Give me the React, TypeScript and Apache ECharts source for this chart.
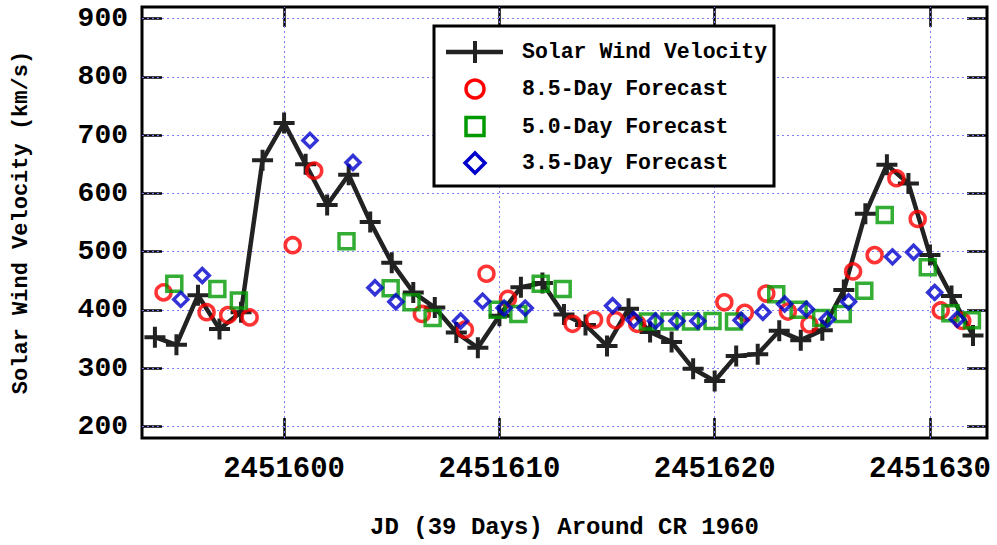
import React, { useEffect, useRef } from "react";
import * as echarts from "echarts";

// ---- Data ----
const velocityDays = [
  2451594, 2451595, 2451596, 2451597, 2451598, 2451599, 2451600, 2451601, 2451602, 2451603,
  2451604, 2451605, 2451606, 2451607, 2451608, 2451609, 2451610, 2451611, 2451612, 2451613,
  2451614, 2451615, 2451616, 2451617, 2451618, 2451619, 2451620, 2451621, 2451622, 2451623,
  2451624, 2451625, 2451626, 2451627, 2451628, 2451629, 2451630, 2451631, 2451632,
];
const velocity = [
  353, 340, 425, 367, 396, 657, 721, 650, 580, 632,
  551, 481, 430, 404, 361, 335, 390, 439, 446, 392,
  374, 338, 402, 362, 345, 299, 278, 321, 324, 364,
  348, 365, 434, 565, 649, 617, 494, 424, 356,
];

const fc85Days = [
  2451594.4, 2451596.4, 2451597.4, 2451598.4, 2451600.4, 2451601.4, 2451606.4, 2451608.4,
  2451609.4, 2451610.4, 2451613.4, 2451614.4, 2451615.4, 2451616.4, 2451620.45, 2451621.4,
  2451622.4, 2451623.4, 2451624.4, 2451626.43, 2451627.43, 2451628.44, 2451629.43, 2451630.5,
  2451631.5,
];
const fc85 = [
  430, 396, 391, 387, 511, 639, 393, 366, 462, 419, 376, 383, 382, 376, 413, 395, 428, 397, 375,
  466, 494, 626, 556, 399, 381,
];

const fc50Days = [
  2451594.9, 2451596.9, 2451597.9, 2451602.9, 2451604.95, 2451605.92, 2451606.9, 2451609.92,
  2451610.88, 2451611.92, 2451612.94, 2451616.9, 2451617.9, 2451618.9, 2451619.9, 2451620.9,
  2451622.86, 2451623.9, 2451624.95, 2451625.95, 2451626.95, 2451627.9, 2451629.9, 2451630.95,
  2451631.95,
];
const fc50 = [
  445, 436, 416, 518, 437, 413, 386, 400, 393, 445, 436, 380, 380, 380, 381, 380, 427, 400, 386,
  393, 433, 563, 473, 394, 382,
];

const fc35Days = [
  2451595.2, 2451596.2, 2451601.2, 2451603.2, 2451604.22, 2451605.19, 2451608.2, 2451609.22,
  2451610.22, 2451611.2, 2451615.26, 2451616.24, 2451617.25, 2451618.25, 2451619.22, 2451621.23,
  2451622.24, 2451623.25, 2451624.26, 2451625.23, 2451626.22, 2451628.26, 2451629.24, 2451630.22,
  2451631.27,
];
const fc35 = [
  418, 459, 691, 653, 438, 414, 381, 415, 403, 403, 407, 383, 381, 381, 381, 382, 396, 410, 401,
  384, 414, 491, 499, 430, 384,
];

const xTicks = [2451600, 2451610, 2451620, 2451630];
const yTicks = [200, 300, 400, 500, 600, 700, 800, 900];

const seriesNames = [
  "Solar Wind Velocity",
  "8.5-Day Forecast",
  "5.0-Day Forecast",
  "3.5-Day Forecast",
];

// ---- Styles ----
const FONT = "'Liberation Mono', 'DejaVu Sans Mono', monospace";
const BLACK = "#222222";
const RED = "#ff0000";
const GREEN = "#009900";
const BLUE = "#0000cc";
const GRID_COLOR = "#7b7bff";
const PLUS = "path://M0,8.5H21V12.5H0Z M8.5,0H12.5V21H8.5Z";

const zip = (xs: number[], ys: number[]) => xs.map((x, i) => [x, ys[i]]);

function buildOption() {
  const X_MIN = 2451593.4;
  const X_MAX = 2451632.65;
  const Y_MIN = 180;
  const Y_MAX = 920;

  const tickStyle = { color: "#000", width: 2.5 };
  const labelStyle = {
    fontFamily: FONT,
    fontWeight: "bold" as const,
    color: "#000",
  };

  const legendRows = [52, 89, 126.5, 163];
  const legendTextX = 522;
  const legendSymX = 475;

  const graphic: any[] = [
    {
      type: "rect",
      z: 100,
      shape: { x: 434, y: 26, width: 340, height: 160 },
      style: { fill: "#fff", stroke: "#000", lineWidth: 3 },
    },
    {
      type: "line",
      z: 101,
      shape: { x1: 446, y1: legendRows[0], x2: 503, y2: legendRows[0] },
      style: { stroke: BLACK, lineWidth: 4.5 },
    },
    {
      type: "line",
      z: 101,
      shape: { x1: legendSymX, y1: legendRows[0] - 11, x2: legendSymX, y2: legendRows[0] + 11 },
      style: { stroke: BLACK, lineWidth: 4 },
    },
    {
      type: "circle",
      z: 101,
      shape: { cx: legendSymX, cy: legendRows[1], r: 9 },
      style: { fill: "none", stroke: RED, lineWidth: 3.5 },
    },
    {
      type: "rect",
      z: 101,
      shape: { x: legendSymX - 9, y: legendRows[2] - 9, width: 18, height: 18 },
      style: { fill: "none", stroke: GREEN, lineWidth: 3.5 },
    },
    {
      type: "polygon",
      z: 101,
      shape: {
        points: [
          [legendSymX, legendRows[3] - 10],
          [legendSymX + 10, legendRows[3]],
          [legendSymX, legendRows[3] + 10],
          [legendSymX - 10, legendRows[3]],
        ],
      },
      style: { fill: "none", stroke: BLUE, lineWidth: 3.5 },
    },
  ];
  seriesNames.forEach((n, i) => {
    graphic.push({
      type: "text",
      z: 102,
      x: legendTextX,
      y: legendRows[i],
      style: {
        text: n,
        fontFamily: FONT,
        fontWeight: "bold",
        fontSize: 21.5,
        fill: "#000",
        verticalAlign: "middle",
        align: "left",
      },
    });
  });

  return {
    animation: false,
    backgroundColor: "#fff",
    grid: {
      left: 142,
      right: 10,
      top: 7,
      bottom: 107,
      show: true,
      borderColor: "#000",
      borderWidth: 3,
      backgroundColor: "transparent",
    },
    xAxis: [
      {
        type: "value",
        min: X_MIN,
        max: X_MAX,
        position: "bottom",
        axisLine: { show: false },
        axisTick: { show: true, inside: true, length: 20, lineStyle: tickStyle, customValues: xTicks },
        axisLabel: {
          ...labelStyle,
          fontSize: 29,
          customValues: xTicks,
          margin: 31,
          verticalAlign: "middle",
          formatter: (v: number) => String(Math.round(v)),
        },
        splitLine: { show: false },
        name: "JD (39 Days) Around CR 1960",
        nameLocation: "middle",
        nameGap: 89,
        nameTextStyle: {
          fontFamily: FONT,
          fontWeight: "bold",
          fontSize: 24,
          color: "#000",
          verticalAlign: "middle",
        },
      },
      {
        type: "value",
        min: X_MIN,
        max: X_MAX,
        position: "top",
        axisLine: { show: false },
        axisTick: { show: true, inside: true, length: 20, lineStyle: tickStyle, customValues: xTicks },
        axisLabel: { show: false },
        splitLine: { show: false },
      },
    ],
    yAxis: [
      {
        type: "value",
        min: Y_MIN,
        max: Y_MAX,
        position: "left",
        axisLine: { show: false },
        axisTick: { show: true, inside: true, length: 20, lineStyle: tickStyle, customValues: yTicks },
        axisLabel: {
          ...labelStyle,
          fontSize: 28,
          customValues: yTicks,
          margin: 14,
          formatter: (v: number) => String(Math.round(v)),
        },
        splitLine: { show: false },
        name: "Solar Wind Velocity (km/s)",
        nameLocation: "middle",
        nameGap: 121,
        nameRotate: 90,
        nameTextStyle: {
          fontFamily: FONT,
          fontWeight: "bold",
          fontSize: 22,
          color: "#000",
          verticalAlign: "middle",
        },
      },
      {
        type: "value",
        min: Y_MIN,
        max: Y_MAX,
        position: "right",
        axisLine: { show: false },
        axisTick: { show: true, inside: true, length: 20, lineStyle: tickStyle, customValues: yTicks },
        axisLabel: { show: false },
        splitLine: { show: false },
      },
    ],
    series: [
      {
        name: seriesNames[0],
        type: "line",
        xAxisIndex: 0,
        yAxisIndex: 0,
        data: zip(velocityDays, velocity),
        symbol: PLUS,
        symbolSize: 21,
        showSymbol: true,
        itemStyle: { color: BLACK },
        lineStyle: { color: BLACK, width: 4.5 },
        z: 2,
        markLine: {
          silent: true,
          symbol: "none",
          z: 1,
          label: { show: false },
          lineStyle: { color: GRID_COLOR, type: [2, 3], width: 1 },
          data: [
            ...yTicks.map((v) => ({ yAxis: v })),
            ...xTicks.map((v) => ({ xAxis: v })),
          ],
        },
      },
      {
        name: seriesNames[1],
        type: "scatter",
        data: zip(fc85Days, fc85),
        symbol: "circle",
        symbolSize: 15,
        itemStyle: { color: "transparent", borderColor: RED, borderWidth: 3.5 },
        z: 3,
      },
      {
        name: seriesNames[2],
        type: "scatter",
        data: zip(fc50Days, fc50),
        symbol: "rect",
        symbolSize: 15,
        itemStyle: { color: "transparent", borderColor: GREEN, borderWidth: 3.5 },
        z: 4,
      },
      {
        name: seriesNames[3],
        type: "scatter",
        data: zip(fc35Days, fc35),
        symbol: "diamond",
        symbolSize: 14,
        itemStyle: { color: "transparent", borderColor: BLUE, borderWidth: 3.5 },
        z: 5,
      },
    ],
    graphic,
  };
}

export default function App() {
  const ref = useRef<HTMLDivElement>(null);
  useEffect(() => {
    if (!ref.current) return;
    const chart = echarts.init(ref.current, null, { renderer: "svg" });
    chart.setOption(buildOption() as any);
    return () => chart.dispose();
  }, []);
  return (
    <div
      ref={ref}
      style={{ position: "absolute", left: 0, top: 0, width: 997, height: 545, background: "#fff" }}
    />
  );
}
